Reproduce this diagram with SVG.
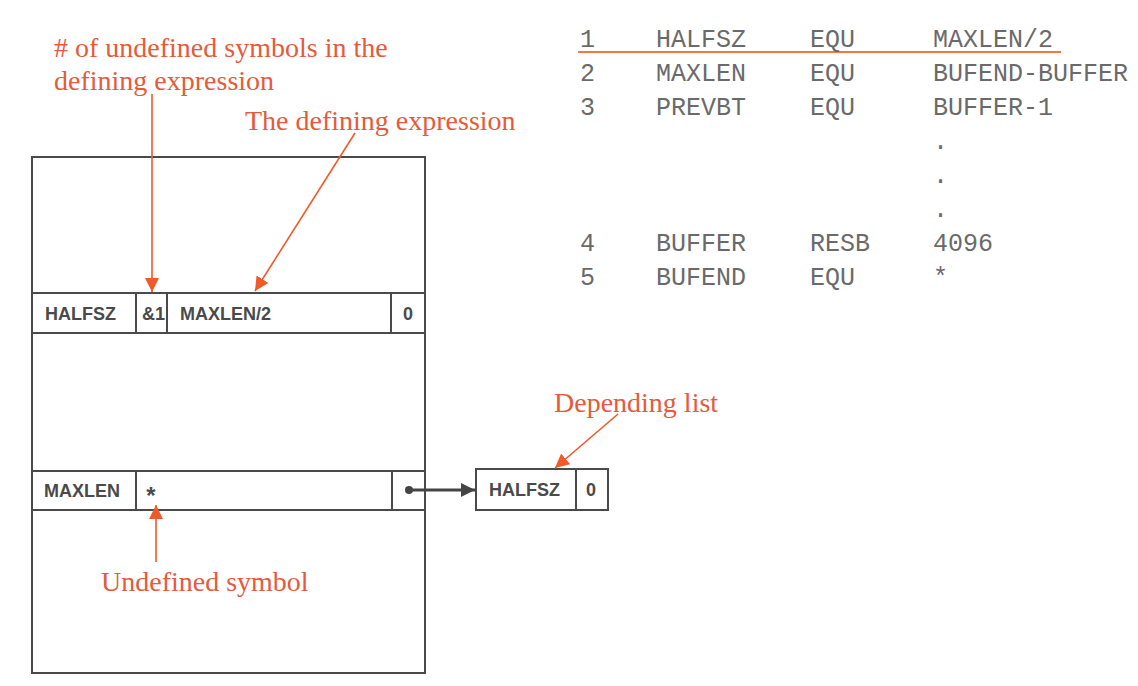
<svg xmlns="http://www.w3.org/2000/svg" width="1138" height="686" viewBox="0 0 1138 686">
<style>
.note{font-family:"Liberation Serif","Times New Roman",serif;font-size:28px;fill:#e65a3a}
.cell{font-family:"Liberation Sans",Arial,sans-serif;font-size:18px;font-weight:bold;fill:#4a4a4a}
.code{font-family:"Liberation Mono","Courier New",monospace;font-size:25px;fill:#6a6a6a}
.box{fill:#ffffff;stroke:#4a4a4a;stroke-width:2}
.sep{stroke:#4a4a4a;stroke-width:2}
.ann{stroke:#f05a2a;stroke-width:1.6;fill:none}
</style>
<defs>
<marker id="oa" markerUnits="userSpaceOnUse" markerWidth="16" markerHeight="14" refX="14" refY="7" orient="auto">
<path d="M0,0 L14,7 L0,14 z" fill="#f05a2a"/>
</marker>
<marker id="ga" markerUnits="userSpaceOnUse" markerWidth="16" markerHeight="14" refX="14" refY="7" orient="auto">
<path d="M0,0 L14,7 L0,14 z" fill="#444"/>
</marker>
</defs>
<rect width="1138" height="686" fill="#ffffff"/>

<g id="symtab">
<rect class="box" x="32" y="157" width="393" height="516"/>
</g>
<g id="row-halfsz">
<rect class="box" x="32" y="293" width="393" height="40"/>
<line class="sep" x1="136" y1="293" x2="136" y2="333"/>
<line class="sep" x1="167" y1="293" x2="167" y2="333"/>
<line class="sep" x1="391" y1="293" x2="391" y2="333"/>
<text class="cell" x="45" y="320">HALFSZ</text>
<text class="cell" x="142" y="320">&amp;1</text>
<text class="cell" x="180" y="320">MAXLEN/2</text>
<text class="cell" x="408" y="320" text-anchor="middle">0</text>
</g>
<g id="row-maxlen">
<rect class="box" x="32" y="471" width="393" height="39"/>
<line class="sep" x1="136" y1="471" x2="136" y2="510"/>
<line class="sep" x1="392" y1="471" x2="392" y2="510"/>
<text class="cell" x="44" y="497">MAXLEN</text>
<text class="cell" x="151" y="504" text-anchor="middle" style="font-size:24px">*</text>
</g>
<g id="deplist">
<rect class="box" x="476" y="469" width="132" height="41"/>
<line class="sep" x1="576" y1="469" x2="576" y2="510"/>
<text class="cell" x="489" y="496">HALFSZ</text>
<text class="cell" x="591" y="496" text-anchor="middle">0</text>
</g>

<g id="connectors">
<circle cx="409" cy="490" r="4" fill="#444"/>
<line x1="409" y1="490" x2="475" y2="490" stroke="#444" stroke-width="3" marker-end="url(#ga)"/>
<line class="ann" x1="152" y1="94" x2="152" y2="292" marker-end="url(#oa)"/>
<line class="ann" x1="355" y1="133" x2="255" y2="291" marker-end="url(#oa)"/>
<line class="ann" x1="618" y1="414" x2="555" y2="468" marker-end="url(#oa)"/>
<line class="ann" x1="156" y1="562" x2="156" y2="505" marker-end="url(#oa)"/>
</g>

<g id="notes">
<text class="note" x="54" y="57"># of undefined symbols in the</text>
<text class="note" x="54" y="90">defining expression</text>
<text class="note" x="245" y="130">The defining expression</text>
<text class="note" x="554" y="412">Depending list</text>
<text class="note" x="101" y="591">Undefined symbol</text>
</g>

<g id="listing">
<line x1="578" y1="52" x2="1061" y2="52" stroke="#f07a3c" stroke-width="2"/>
<text class="code" x="580" y="47">1</text>
<text class="code" x="656" y="47">HALFSZ</text>
<text class="code" x="810" y="47">EQU</text>
<text class="code" x="933" y="47">MAXLEN/2</text>
<text class="code" x="580" y="81">2</text>
<text class="code" x="656" y="81">MAXLEN</text>
<text class="code" x="810" y="81">EQU</text>
<text class="code" x="933" y="81">BUFEND-BUFFER</text>
<text class="code" x="580" y="115">3</text>
<text class="code" x="656" y="115">PREVBT</text>
<text class="code" x="810" y="115">EQU</text>
<text class="code" x="933" y="115">BUFFER-1</text>
<text class="code" x="933" y="149">.</text>
<text class="code" x="933" y="183">.</text>
<text class="code" x="933" y="217">.</text>
<text class="code" x="580" y="251">4</text>
<text class="code" x="656" y="251">BUFFER</text>
<text class="code" x="810" y="251">RESB</text>
<text class="code" x="933" y="251">4096</text>
<text class="code" x="580" y="285">5</text>
<text class="code" x="656" y="285">BUFEND</text>
<text class="code" x="810" y="285">EQU</text>
<text class="code" x="933" y="285">*</text>
</g>
</svg>
